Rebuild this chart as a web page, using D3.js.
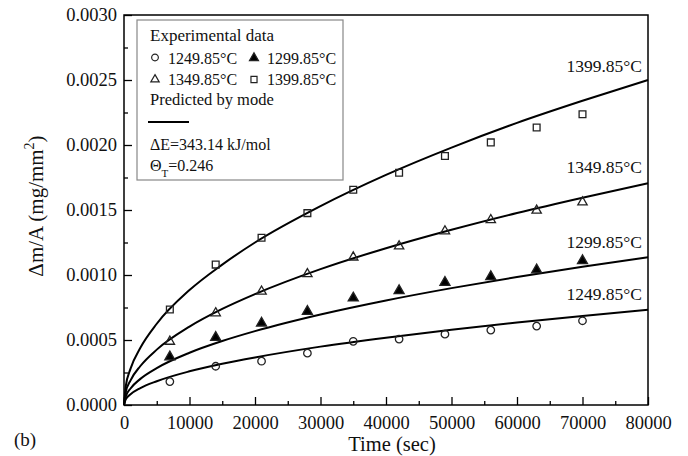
<!DOCTYPE html>
<html>
<head>
<meta charset="utf-8">
<script src="https://cdn.jsdelivr.net/npm/d3@7"></script>
<style>
    body { margin: 0; background: #fff; }
    svg, svg text { font-family: "Liberation Serif", "Times New Roman", serif; }
    svg { display: block; }
</style>
</head>
<body>
<svg></svg>
<script>
// measured points (sec, mg/mm2)
const expTimes = [7000, 14000, 21000, 28000, 35000, 42000, 49000, 56000, 63000, 70000];
const exp1249 = [0.00018, 0.000298, 0.000337, 0.000399, 0.00049, 0.000507, 0.000545, 0.000576, 0.000607, 0.000648];
const exp1299 = [0.00037, 0.00052, 0.00063, 0.00072, 0.000823, 0.000879, 0.000943, 0.000987, 0.001039, 0.00111];
const exp1349 = [0.000488, 0.000707, 0.000874, 0.001008, 0.001136, 0.001221, 0.001337, 0.001424, 0.001496, 0.00156];
const exp1399 = [0.000735, 0.00108, 0.001286, 0.001476, 0.001656, 0.001787, 0.001915, 0.00202, 0.002134, 0.002237];

// model curves
const modelTimes = [0, 250, 1000, 2500, 5000, 10000, 15000, 20000, 30000, 40000, 50000, 60000, 70000, 80000];
const model1249 = [0, 0.000041, 0.000082, 0.00013, 0.000183, 0.000259, 0.000317, 0.000366, 0.000449, 0.000518, 0.000579, 0.000634, 0.000685, 0.000733];
const model1299 = [0, 0.000064, 0.000127, 0.000201, 0.000284, 0.000402, 0.000492, 0.000568, 0.000696, 0.000804, 0.000899, 0.000985, 0.001064, 0.001137];
const model1349 = [0, 0.000095, 0.00019, 0.0003, 0.000426, 0.000603, 0.000739, 0.000853, 0.001045, 0.001206, 0.001348, 0.001477, 0.001595, 0.001706];
const model1399 = [0, 0.00014, 0.00028, 0.00044, 0.000625, 0.000884, 0.00108, 0.00125, 0.00153, 0.00177, 0.00198, 0.00217, 0.00234, 0.0025];

const seriesNames = ["1249.85°C", "1299.85°C", "1349.85°C", "1399.85°C"];
const xTicks = [0, 10000, 20000, 30000, 40000, 50000, 60000, 70000, 80000];
const yTicks = [0, 0.0005, 0.001, 0.0015, 0.002, 0.0025, 0.003];

(function () {
    const W = 688, H = 456;
    const margin = { top: 15, left: 124, right: 40, bottom: 51 };
    const width = W - margin.left - margin.right;
    const height = H - margin.top - margin.bottom;
    const serif = '"Liberation Serif", "Times New Roman", serif';

    const svg = d3.select("svg").attr("width", W).attr("height", H);

    const x = d3.scaleLinear().domain([0, 80000]).range([0, width]);
    const y = d3.scaleLinear().domain([0, 0.003]).range([height, 0]);

    const g = svg.append("g")
        .attr("transform", `translate(${margin.left},${margin.top})`);

    // frame
    g.append("rect")
        .attr("width", width).attr("height", height)
        .attr("fill", "none").attr("stroke", "#000").attr("stroke-width", 1.5);

    // minor ticks
    const xMinor = d3.axisBottom(x).tickValues(d3.range(5000, 80000, 10000))
        .tickSize(-4).tickFormat("");
    g.append("g").attr("transform", `translate(0,${height})`).call(xMinor)
        .call(s => s.select(".domain").remove());
    const yMinor = d3.axisLeft(y).tickValues(d3.range(0.00025, 0.003, 0.0005))
        .tickSize(-4).tickFormat("");
    g.append("g").call(yMinor).call(s => s.select(".domain").remove());

    // major ticks
    const xAxis = g.append("g")
        .attr("transform", `translate(0,${height})`)
        .call(d3.axisBottom(x).tickValues(xTicks).tickSize(-8).tickPadding(11).tickFormat(d3.format("d")));
    xAxis.select(".domain").remove();
    xAxis.attr("font-family", serif).attr("font-size", 18.5);
    xAxis.selectAll("text").style("font-family", serif).style("font-size", "18.5px").attr("fill", "#111");

    const yAxis = g.append("g")
        .call(d3.axisLeft(y).tickValues(yTicks).tickSize(-8).tickPadding(7).tickFormat(d3.format(".4f")));
    yAxis.select(".domain").remove();
    yAxis.attr("font-family", serif).attr("font-size", 18.5);
    yAxis.selectAll("text").style("font-family", serif).style("font-size", "18.5px").attr("fill", "#111");

    svg.selectAll(".tick line").attr("stroke", "#000").attr("stroke-width", 1.3);

    // model curves
    const models = [model1249, model1299, model1349, model1399];
    const line = d3.line()
        .x(d => x(d[0]))
        .y(d => y(d[1]))
        .curve(d3.curveMonotoneX);
    models.forEach(m => {
        g.append("path")
            .datum(modelTimes.map((t, i) => [t, m[i]]))
            .attr("fill", "none")
            .attr("stroke", "#000")
            .attr("stroke-width", 2)
            .attr("d", line);
    });

    // experimental points
    const exps = [exp1249, exp1299, exp1349, exp1399];
    const symbols = [
        { type: d3.symbolCircle, size: 44, fill: "none" },
        { type: d3.symbolTriangle, size: 44, fill: "#000" },
        { type: d3.symbolTriangle, size: 38, fill: "none" },
        { type: d3.symbolSquare, size: 46, fill: "none" }
    ];
    exps.forEach((e, k) => {
        g.append("g").selectAll("path")
            .data(expTimes.map((t, i) => [t, e[i]]))
            .enter()
            .append("path")
            .attr("transform", d => `translate(${x(d[0])},${y(d[1])})`)
            .attr("d", d3.symbol().type(symbols[k].type).size(symbols[k].size))
            .attr("fill", symbols[k].fill)
            .attr("stroke", "#222")
            .attr("stroke-width", 1.3);
    });

    // curve labels at right end
    const labelBase = [300, 248, 173, 72];
    seriesNames.forEach((name, k) => {
        svg.append("text")
            .attr("x", 642).attr("y", labelBase[k])
            .attr("text-anchor", "end")
            .attr("font-size", 17.5)
            .attr("fill", "#111")
            .text(name);
    });

    // axis titles
    svg.append("text")
        .attr("x", 392).attr("y", 451)
        .attr("text-anchor", "middle")
        .attr("font-size", 20.5)
        .attr("fill", "#111")
        .text("Time (sec)");

    const yt = svg.append("text")
        .attr("transform", "translate(43,206) rotate(-90)")
        .attr("text-anchor", "middle")
        .attr("font-size", 21)
        .attr("fill", "#111");
    yt.append("tspan").text("Δm/A (mg/mm");
    yt.append("tspan").attr("dy", -9).attr("font-size", 14).text("2");
    yt.append("tspan").attr("dy", 9).text(")");

    svg.append("text")
        .attr("x", 14).attr("y", 446)
        .attr("font-size", 19)
        .attr("fill", "#111")
        .text("(b)");

    // legend
    const lg = svg.append("g");
    lg.append("rect")
        .attr("x", 137).attr("y", 20).attr("width", 206).attr("height", 160)
        .attr("fill", "#fff").attr("stroke", "#888").attr("stroke-width", 1.2);
    lg.append("text").attr("x", 150).attr("y", 41).attr("font-size", 17).attr("fill", "#111")
        .text("Experimental data");
    const legItems = [
        { k: 0, sx: 155, sy: 57.5, tx: 168, ty: 63.5 },
        { k: 1, sx: 254, sy: 58, tx: 267, ty: 63.5 },
        { k: 2, sx: 155, sy: 79.5, tx: 168, ty: 85 },
        { k: 3, sx: 254, sy: 79.5, tx: 267, ty: 85 }
    ];
    legItems.forEach(it => {
        lg.append("path")
            .attr("transform", `translate(${it.sx},${it.sy})`)
            .attr("d", d3.symbol().type(symbols[it.k].type).size(symbols[it.k].size * 0.8))
            .attr("fill", symbols[it.k].fill)
            .attr("stroke", "#222").attr("stroke-width", 1.2);
        lg.append("text").attr("x", it.tx).attr("y", it.ty).attr("font-size", 16).attr("fill", "#111")
            .text(seriesNames[it.k]);
    });
    lg.append("text").attr("x", 150).attr("y", 105).attr("font-size", 16.5).attr("fill", "#111")
        .text("Predicted by mode");
    lg.append("line")
        .attr("x1", 148).attr("x2", 189).attr("y1", 122).attr("y2", 122)
        .attr("stroke", "#000").attr("stroke-width", 2);
    lg.append("text").attr("x", 150).attr("y", 149.5).attr("font-size", 16).attr("fill", "#111")
        .text("ΔE=343.14 kJ/mol");
    const th = lg.append("text").attr("x", 150).attr("y", 171).attr("font-size", 16).attr("fill", "#111");
    th.append("tspan").text("Θ");
    th.append("tspan").attr("dy", 6).attr("font-size", 11).text("T");
    th.append("tspan").attr("dy", -6).text("=0.246");
})();
</script>
</body>
</html>
